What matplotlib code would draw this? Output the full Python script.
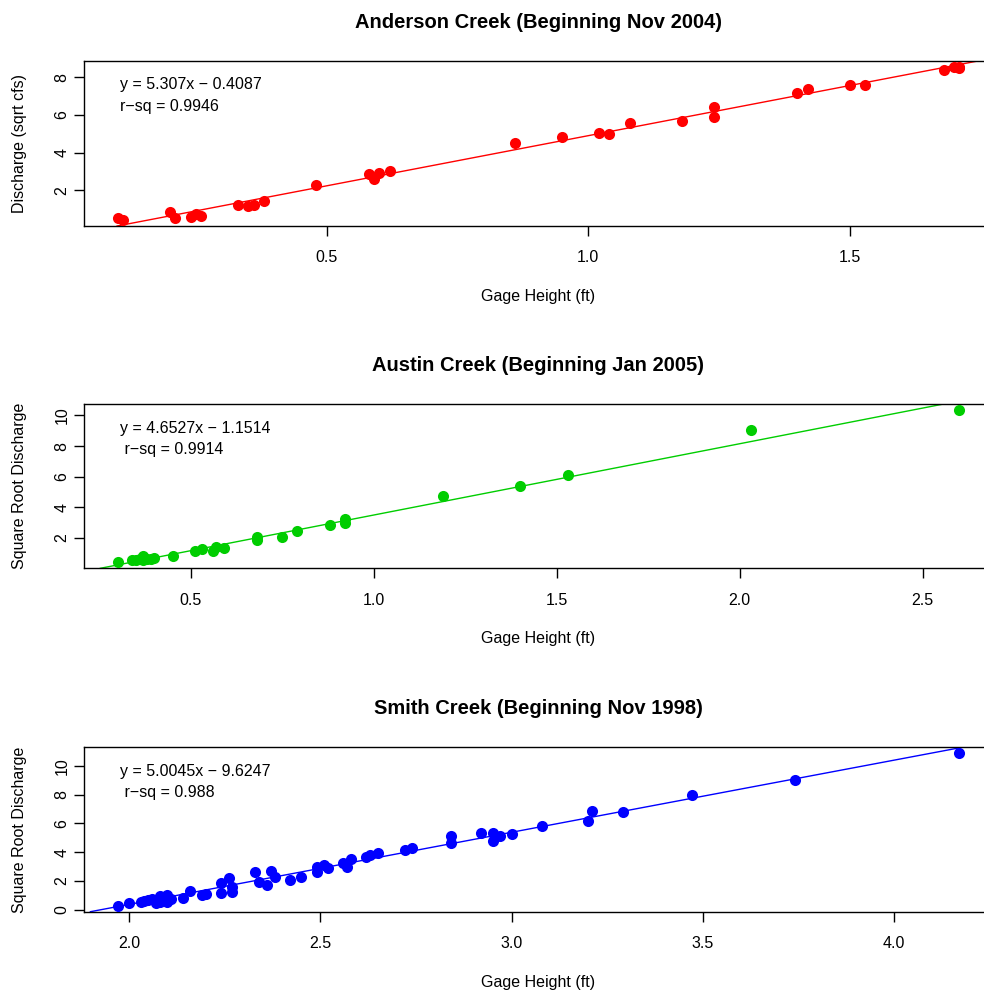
import numpy as np
import matplotlib
matplotlib.use("Agg")
import matplotlib.pyplot as plt

plt.rcParams['font.family'] = ['Liberation Sans', 'DejaVu Sans']

# Anderson Creek: gage height (ft) vs square root of discharge
anderson_gh = [0.10, 0.11, 0.20, 0.21, 0.24, 0.25, 0.26, 0.33, 0.35, 0.36, 0.38, 0.48,
               0.58, 0.59, 0.60, 0.62, 0.86, 0.95, 1.02, 1.04, 1.08, 1.18, 1.24, 1.24,
               1.40, 1.42, 1.50, 1.53, 1.68, 1.70, 1.71, 1.71]
anderson_q = [0.54, 0.44, 0.84, 0.54, 0.60, 0.74, 0.67, 1.24, 1.16, 1.24, 1.43, 2.30,
              2.89, 2.59, 2.94, 3.01, 4.49, 4.84, 5.02, 4.97, 5.56, 5.68, 6.43, 5.89,
              7.14, 7.37, 7.58, 7.56, 8.36, 8.52, 8.53, 8.47]

# Austin Creek
austin_gh = [0.30, 0.34, 0.35, 0.36, 0.37, 0.37, 0.38, 0.39, 0.40, 0.45, 0.51, 0.53,
             0.56, 0.57, 0.59, 0.68, 0.68, 0.75, 0.79, 0.88, 0.92, 0.92, 1.19, 1.40,
             1.53, 2.03, 2.60]
austin_q = [0.42, 0.57, 0.55, 0.60, 0.83, 0.55, 0.66, 0.62, 0.70, 0.83, 1.18, 1.29,
            1.18, 1.44, 1.37, 2.04, 1.87, 2.06, 2.43, 2.82, 3.25, 2.97, 4.74, 5.40,
            6.10, 9.03, 10.33]

# Smith Creek
smith_gh = [1.97, 2.00, 2.03, 2.04, 2.05, 2.06, 2.07, 2.08, 2.08, 2.09, 2.10, 2.10,
            2.11, 2.14, 2.16, 2.19, 2.20, 2.24, 2.24, 2.26, 2.27, 2.27, 2.33, 2.34,
            2.36, 2.37, 2.38, 2.42, 2.45, 2.49, 2.49, 2.51, 2.52, 2.56, 2.57, 2.58,
            2.62, 2.63, 2.65, 2.72, 2.74, 2.84, 2.84, 2.92, 2.95, 2.95, 2.97, 3.00,
            3.08, 3.20, 3.21, 3.29, 3.47, 3.74, 4.17]
smith_q = [0.30, 0.51, 0.58, 0.65, 0.70, 0.74, 0.46, 0.99, 0.58, 0.85, 1.02, 0.58,
           0.75, 0.81, 1.30, 1.02, 1.13, 1.89, 1.20, 2.22, 1.62, 1.25, 2.63, 1.96,
           1.73, 2.72, 2.26, 2.06, 2.31, 3.00, 2.66, 3.09, 2.89, 3.28, 3.00, 3.51,
           3.70, 3.81, 3.93, 4.16, 4.32, 5.15, 4.66, 5.36, 5.31, 4.80, 5.15, 5.24,
           5.82, 6.19, 6.86, 6.77, 7.99, 8.99, 10.86]

# regression coefficients (slope, intercept, r-squared)
anderson_fit = (5.307, -0.4087, 0.9946)
austin_fit = (4.6527, -1.1514, 0.9914)
smith_fit = (5.0045, -9.6247, 0.988)

titles = ["Anderson Creek (Beginning Nov 2004)",
          "Austin Creek (Beginning Jan 2005)",
          "Smith Creek (Beginning Nov 1998)"]
ylabels = ["Discharge (sqrt cfs)", "Square Root Discharge", "Square Root Discharge"]
eq_labels = ["y = 5.307x \u2212 0.4087", "y = 4.6527x \u2212 1.1514", "y = 5.0045x \u2212 9.6247"]
rsq_labels = ["r\u2212sq = 0.9946", " r\u2212sq = 0.9914", " r\u2212sq = 0.988"]
xtick_sets = [[0.5, 1.0, 1.5], [0.5, 1.0, 1.5, 2.0, 2.5], [2.0, 2.5, 3.0, 3.5, 4.0]]
ytick_sets = [[2, 4, 6, 8], [2, 4, 6, 8, 10], [0, 2, 4, 6, 8, 10]]

FS = 11.5
fig = plt.figure(figsize=(9.84, 9.90), dpi=100)


def r_lim(v):
    # base R style axis range: 4% padding on each side
    lo, hi = min(v), max(v)
    pad = 0.04 * (hi - lo)
    return lo - pad, hi + pad


def panel(rect, gh, q, fit, color, i):
    slope, icpt, rsq = fit
    ax = fig.add_axes(rect)
    ax.plot(gh, q, 'o', color=color, ms=8, mew=0, zorder=3)
    xm = float(np.mean(gh))
    ax.axline((xm, slope * xm + icpt), slope=slope, color=color, lw=1.0, zorder=2)
    ax.set_xlim(*r_lim(gh))
    ax.set_ylim(*r_lim(q))
    ax.set_xticks(xtick_sets[i])
    ax.set_xticklabels(["%.1f" % t for t in xtick_sets[i]])
    ax.set_yticks(ytick_sets[i])
    ax.tick_params(direction='out', length=7, width=1, labelsize=FS)
    ax.tick_params(axis='x', pad=10.5)
    ax.tick_params(axis='y', pad=3.5, labelrotation=90)
    for lab in ax.get_yticklabels():
        lab.set_va('center')
    for sp in ax.spines.values():
        sp.set_linewidth(1.0)
    h = rect[3] * 990
    ax.text(0.5, 1 + 39 / h, titles[i], transform=ax.transAxes, ha='center',
            va='center', fontsize=14.5, fontweight='bold')
    ax.set_xlabel("Gage Height (ft)", fontsize=FS, va='center')
    ax.xaxis.set_label_coords(0.5, -70.5 / h)
    ax.set_ylabel(ylabels[i], fontsize=FS, va='center')
    ax.yaxis.set_label_coords(-64 / 909, 0.5)
    ax.text(35.5 / 909, 0.855, eq_labels[i], transform=ax.transAxes,
            ha='left', va='center', fontsize=FS)
    ax.text(35.5 / 909, 0.725, rsq_labels[i], transform=ax.transAxes,
            ha='left', va='center', fontsize=FS)
    return ax


left, width = 84 / 984, 909 / 984
panel([left, 1 - 226 / 990, width, 165 / 990], anderson_gh, anderson_q, anderson_fit, '#FF0000', 0)
panel([left, 1 - 568.3 / 990, width, 164 / 990], austin_gh, austin_q, austin_fit, '#00CD00', 1)
panel([left, 1 - 911.7 / 990, width, 164.4 / 990], smith_gh, smith_q, smith_fit, '#0000FF', 2)

fig.savefig("out.png", dpi=100)
